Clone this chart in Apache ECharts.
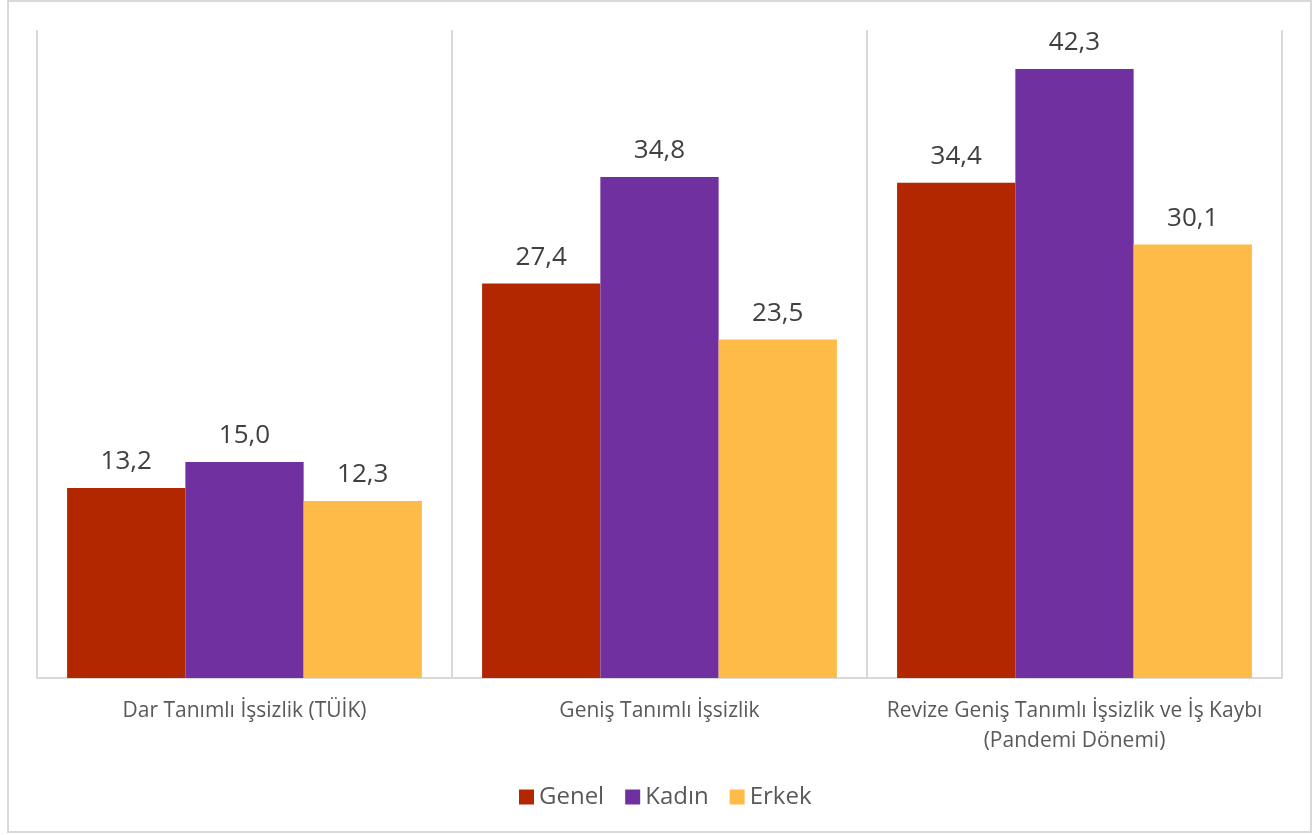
<!DOCTYPE html>
<html>
<head>
<meta charset="utf-8">
<script src="https://cdn.jsdelivr.net/npm/echarts@6/dist/echarts.min.js"></script>
<style>
html,body{margin:0;padding:0;background:#fff;}
#chart{width:1314px;height:835px;}
</style>
</head>
<body>
<div id="chart"></div>
<script>
const categories = ["Dar Tanımlı İşsizlik (TÜİK)", "Geniş Tanımlı İşsizlik", "Revize Geniş Tanımlı İşsizlik ve İş Kaybı\n(Pandemi Dönemi)"];
const seriesNames = ["Genel", "Kadın", "Erkek"];
const genel = [13.2, 27.4, 34.4];
const kadin = [15.0, 34.8, 42.3];
const erkek = [12.3, 23.5, 30.1];
const colors = ["#B22600", "#7030A0", "#FFBB48"];
const FONT = "'Open Sans', 'Noto Sans', sans-serif";

const chart = echarts.init(document.getElementById('chart'), null, {renderer: 'canvas'});
const values = [genel, kadin, erkek];
const option = {
  animation: false,
  backgroundColor: '#fff',
  textStyle: {fontFamily: FONT},
  graphic: [{
    type: 'rect', shape: {x: 8, y: 1, width: 1303, height: 831},
    style: {fill: 'none', stroke: '#d9d9d9', lineWidth: 2}, silent: true, z: -1
  }],
  legend: {
    data: seriesNames, top: 780, left: 514, itemWidth: 15, itemHeight: 15, itemGap: 21,
    icon: 'rect',
    textStyle: {fontSize: 24, color: '#595959', fontFamily: FONT}
  },
  grid: {left: 37, right: 32, top: 30, bottom: 157, containLabel: false},
  xAxis: {
    type: 'category', data: categories,
    axisLine: {show: true, lineStyle: {color: '#d9d9d9', width: 2}},
    axisTick: {show: false},
    splitLine: {show: true, interval: 0, lineStyle: {color: '#d9d9d9', width: 2}},
    axisLabel: {interval: 0, hideOverlap: false, color: '#595959', fontSize: 21, lineHeight: 30, margin: 18, fontFamily: FONT}
  },
  yAxis: {
    type: 'value', min: 0, max: 45, interval: 5, show: false,
    splitLine: {show: false}
  },
  series: seriesNames.map((n, i) => ({
    name: n, type: 'bar', data: values[i], barGap: '0%', barCategoryGap: '14.5%',
    itemStyle: {color: colors[i]},
    label: {
      show: true, position: 'top', distance: 13, fontSize: 26, color: '#404040', fontFamily: FONT,
      formatter: p => p.value.toFixed(1).replace('.', ',')
    }
  }))
};
chart.setOption(option);
</script>
</body>
</html>
